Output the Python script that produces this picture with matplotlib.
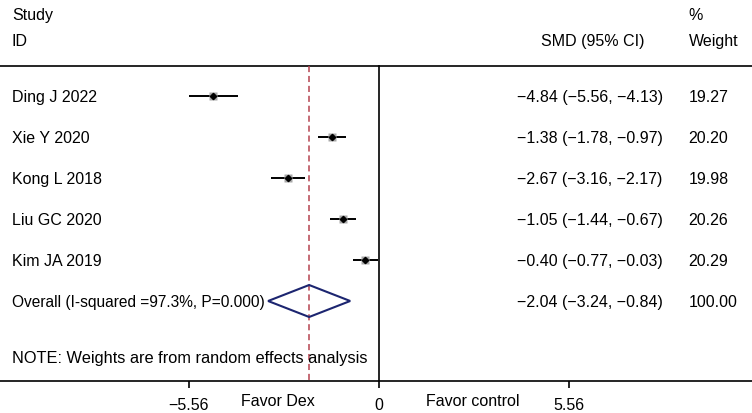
import matplotlib
matplotlib.use("Agg")
import matplotlib.pyplot as plt
from matplotlib.patches import Polygon
from matplotlib.transforms import blended_transform_factory

plt.rcParams['font.family'] = ['Liberation Sans', 'DejaVu Sans']
plt.rcParams['font.size'] = 11.5

# study level results (SMD with 95% CI) and random effects weights
studies = ["Ding J 2022", "Xie Y 2020", "Kong L 2018", "Liu GC 2020", "Kim JA 2019"]
smd = [-4.84, -1.38, -2.67, -1.05, -0.40]
ci_low = [-5.56, -1.78, -3.16, -1.44, -0.77]
ci_high = [-4.13, -0.97, -2.17, -0.67, -0.03]
weights = [19.27, 20.20, 19.98, 20.26, 20.29]

# pooled estimate
overall_label = "Overall (I-squared =97.3%, P=0.000)"
overall_smd = -2.04
overall_low = -3.24
overall_high = -0.84
overall_weight = 100.00

xticks = [-5.56, 0, 5.56]
xtick_labels = ["\u22125.56", "0", "5.56"]


def fmt(v):
    return f"{v:.2f}".replace("-", "\u2212")


fig = plt.figure(figsize=(7.52, 4.13), dpi=100)
ax = fig.add_axes([0, 0.0763, 1, 0.9237])

# x in SMD units, y in rows (0 = first study)
ax.set_xlim(-11.08, 10.91)
ax.set_ylim(6.963, -2.341)

col_name = -10.73
col_ci = 8.30
col_w = 9.06
col_hdr = 7.78
line_top = -0.732

# header
ax.text(col_name, -2.0, "Study", va="center_baseline", ha="left")
ax.text(col_name, -1.37, "ID", va="center_baseline", ha="left")
ax.text(col_hdr, -1.37, "SMD (95% CI)", va="center_baseline", ha="right")
ax.text(col_w, -2.0, "%", va="center_baseline", ha="left")
ax.text(col_w, -1.37, "Weight", va="center_baseline", ha="left")
ax.axhline(line_top, color="black", lw=1.2)

# reference lines
ax.plot([0, 0], [line_top, 6.963], color="black", lw=1.2)
ax.plot([overall_smd, overall_smd], [line_top, 6.963], color="#b5424f",
        lw=1.1, dashes=(4, 2.5))

for i, name in enumerate(studies):
    ax.plot([ci_low[i], ci_high[i]], [i, i], color="black", lw=1.4,
            solid_capstyle="butt", zorder=3)
    ax.plot(smd[i], i, marker="s", color="#a8a8a8", mec="none",
            ms=5.8 * (weights[i] / 20) ** 0.5, zorder=4)
    ax.plot(smd[i], i, marker="D", color="black", ms=3.2, zorder=5)
    ax.text(col_name, i, name, va="center_baseline", ha="left")
    ax.text(col_ci, i, f"{fmt(smd[i])} ({fmt(ci_low[i])}, {fmt(ci_high[i])})",
            va="center_baseline", ha="right")
    ax.text(col_w, i, f"{weights[i]:.2f}", va="center_baseline", ha="left")

# pooled diamond
row = len(studies)
diamond = Polygon([(overall_low, row), (overall_smd, row - 0.39),
                   (overall_high, row), (overall_smd, row + 0.39)],
                  closed=True, fill=False, edgecolor="#1c2570", lw=1.5, zorder=4)
ax.add_patch(diamond)
ax.text(col_name, row, overall_label, va="center_baseline", ha="left",
        fontsize=11.2)
ax.text(col_ci, row, f"{fmt(overall_smd)} ({fmt(overall_low)}, {fmt(overall_high)})",
        va="center_baseline", ha="right")
ax.text(col_w, row, f"{overall_weight:.2f}", va="center_baseline", ha="left")

ax.text(col_name, 6.37, "NOTE: Weights are from random effects analysis",
        va="center_baseline", ha="left", fontsize=11.8)

# x axis
for side in ["top", "right", "left"]:
    ax.spines[side].set_visible(False)
ax.spines["bottom"].set_linewidth(1.2)
ax.set_yticks([])
ax.set_xticks(xticks)
ax.set_xticklabels(xtick_labels)
ax.tick_params(axis="x", direction="out", length=5, width=1.2, pad=7)

trans = blended_transform_factory(ax.transData, fig.transFigure)
ax.text(-2.96, 0.016, "Favor Dex", transform=trans, ha="center", va="baseline",
        clip_on=False)
ax.text(2.75, 0.016, "Favor control", transform=trans, ha="center", va="baseline",
        clip_on=False)

fig.savefig("out.png", dpi=100)
